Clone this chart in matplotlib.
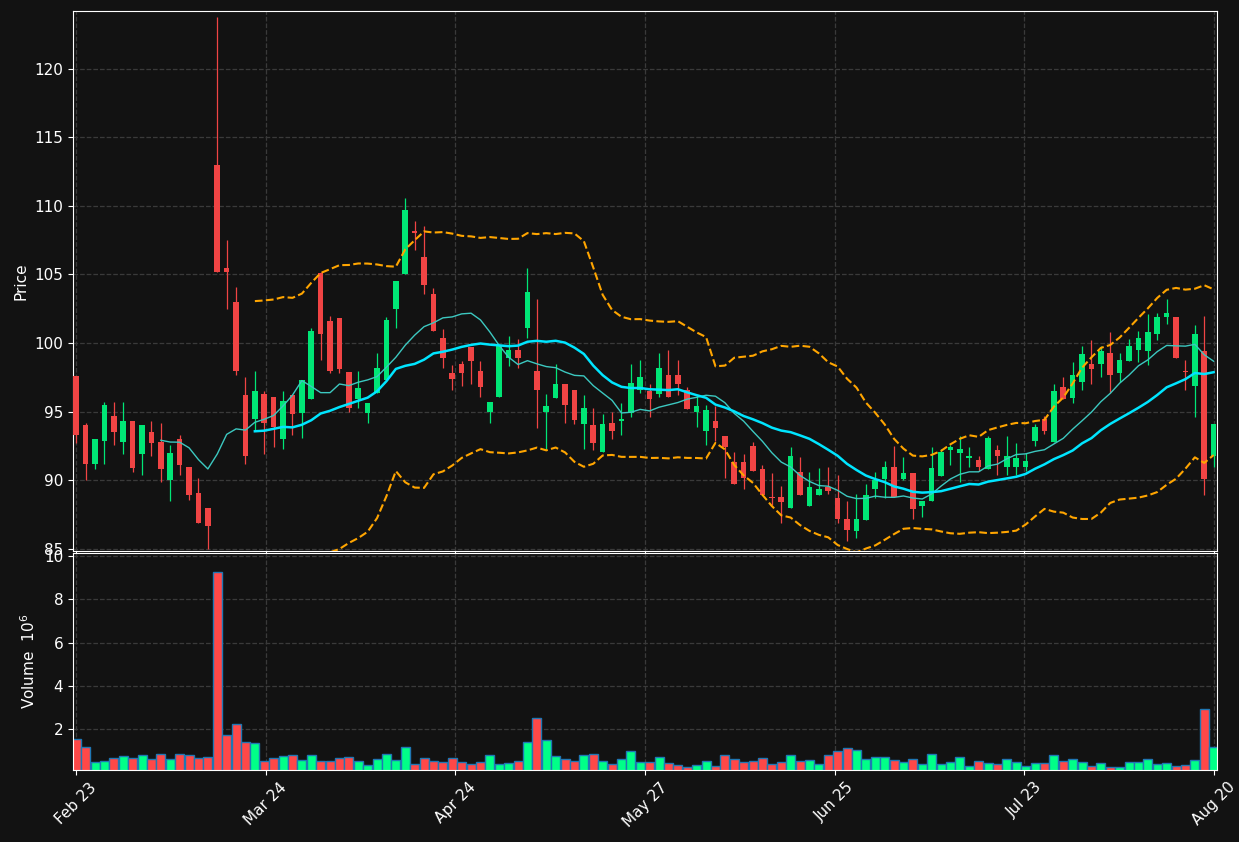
import numpy as np
import pandas as pd
import matplotlib
matplotlib.use("Agg")
import matplotlib.pyplot as plt

opens = [97.6,94.0,91.2,92.9,94.7,92.8,94.3,91.9,93.5,92.8,90.0,93.0,91.0,89.1,88.0,113.0,105.5,103.0,96.2,94.5,
         96.3,96.1,93.0,96.2,94.9,95.9,105.1,101.6,101.8,97.9,95.9,94.9,96.4,97.3,102.5,105.0,108.2,106.3,103.6,100.4,
         97.8,98.5,99.7,98.0,95.0,96.1,98.9,99.5,101.1,98.0,95.0,96.0,97.0,96.6,94.1,94.0,92.1,94.2,94.3,94.9,
         96.6,96.5,96.3,97.7,97.7,96.6,95.0,93.6,94.3,93.2,91.3,91.3,92.5,90.8,88.8,88.8,88.0,90.6,88.1,88.9,
         89.5,88.7,87.2,86.3,87.1,89.4,90.1,91.0,90.1,90.5,88.1,88.5,90.3,92.2,92.0,91.6,91.5,90.8,92.2,91.0,
         91.0,91.0,92.9,94.5,92.8,96.8,96.0,97.2,98.5,98.5,99.3,97.8,98.7,99.5,99.4,100.7,101.9,101.9,98.0,96.9,
         99.4,91.8]
closes = [93.3,91.2,93.0,95.5,93.5,94.3,90.9,94.0,92.7,90.8,92.0,91.1,88.9,86.9,86.7,105.2,105.2,98.0,91.8,96.5,
          94.2,93.9,95.8,94.8,97.3,100.9,100.7,98.0,98.1,95.3,96.7,95.6,98.2,101.7,104.5,109.7,108.0,104.2,100.9,98.9,
          97.4,97.8,98.7,96.8,95.7,99.8,99.5,98.9,103.7,96.6,95.4,97.0,95.5,94.4,95.3,92.7,94.1,93.6,94.5,97.1,
          97.5,95.9,98.2,96.1,97.0,95.2,95.4,95.1,93.8,92.4,89.7,90.2,90.7,88.9,88.7,88.4,91.8,88.9,89.5,89.4,
          89.2,87.2,86.4,87.2,88.9,90.0,91.0,88.8,90.5,87.9,88.5,90.9,92.1,92.4,92.3,91.8,91.0,93.1,91.8,91.8,
          91.6,91.4,93.9,93.6,96.5,95.9,97.7,99.2,98.1,99.4,97.7,98.8,99.8,100.4,100.8,101.9,102.2,98.9,97.9,100.7,
          90.1,94.1]
highs = [97.6,94.2,93.0,95.7,95.7,95.7,94.3,94.0,94.3,94.2,92.6,93.3,91.0,90.2,88.0,123.8,107.5,104.1,97.5,98.0,
         96.5,96.1,96.5,96.2,97.3,101.1,105.2,102.0,101.8,97.9,98.0,95.6,99.3,101.9,104.5,110.6,108.9,108.5,104.0,101.0,
         98.4,98.7,99.7,98.7,95.7,99.8,100.5,100.3,105.5,103.2,96.3,98.5,97.0,96.6,96.2,95.3,94.8,95.0,95.6,98.5,
         98.8,97.0,99.3,99.5,98.8,96.8,96.2,95.5,95.4,93.2,92.1,91.9,92.8,91.1,90.5,89.6,92.4,91.7,90.6,90.9,
         91.0,90.4,88.5,89.0,89.7,90.6,91.4,92.5,91.7,90.5,88.5,92.4,92.3,92.6,93.2,92.4,91.8,93.2,92.6,93.2,
         92.7,92.0,94.1,94.7,97.0,97.5,98.6,99.8,100.2,99.8,100.8,99.3,100.3,100.9,102.1,102.2,103.2,101.9,98.8,101.3,
         102.0,94.1]
lows = [92.7,90.0,90.8,91.2,92.6,91.9,90.6,90.4,91.8,89.9,88.5,90.4,88.6,86.9,85.0,105.2,102.5,97.7,91.2,93.6,
        91.9,92.4,92.3,93.3,93.1,95.9,98.8,97.8,97.8,95.0,95.3,94.2,96.4,97.3,101.1,105.0,106.8,103.6,100.9,98.2,
        96.6,96.9,97.0,96.1,94.2,96.1,98.3,98.2,100.4,93.8,92.3,96.0,94.2,94.1,92.3,92.2,92.1,93.0,93.3,94.6,
        96.4,94.6,96.1,96.1,96.2,95.2,93.9,92.6,92.9,90.2,89.7,89.4,90.7,88.9,88.2,86.9,88.0,88.9,88.1,88.9,
        89.0,86.9,85.6,85.8,87.1,88.7,88.7,88.8,90.0,87.2,87.3,88.5,90.3,91.1,89.9,91.0,90.7,90.8,90.4,90.4,
        90.4,90.7,92.5,93.4,92.8,95.9,95.6,96.6,97.0,97.5,96.4,97.2,98.7,98.6,98.4,100.2,101.4,98.9,96.6,94.6,
        88.9,91.0]
volumes = [1.53,1.16,0.46,0.51,0.65,0.74,0.65,0.79,0.60,0.84,0.60,0.84,0.79,0.65,0.70,9.26,1.72,2.23,1.40,1.35,
           0.51,0.65,0.74,0.79,0.56,0.79,0.51,0.51,0.65,0.70,0.51,0.33,0.60,0.84,0.56,1.16,0.37,0.65,0.51,0.46,
           0.65,0.48,0.37,0.48,0.79,0.37,0.42,0.53,1.40,2.51,1.49,0.74,0.60,0.53,0.79,0.84,0.51,0.37,0.60,0.98,
           0.48,0.48,0.70,0.41,0.31,0.23,0.31,0.51,0.28,0.79,0.60,0.48,0.51,0.65,0.37,0.48,0.79,0.51,0.56,0.37,
           0.79,0.98,1.12,1.02,0.60,0.70,0.70,0.56,0.48,0.60,0.37,0.84,0.37,0.48,0.70,0.28,0.51,0.41,0.37,0.60,
           0.48,0.28,0.41,0.41,0.79,0.51,0.60,0.48,0.28,0.41,0.23,0.23,0.48,0.48,0.60,0.37,0.41,0.28,0.33,0.56,
           2.93,1.16]
tick_labels = ["Feb 23", "Mar 24", "Apr 24", "May 27", "Jun 25", "Jul 23", "Aug 20"]

o = np.array(opens); c = np.array(closes); h = np.array(highs); l = np.array(lows)
v = np.array(volumes)
x = np.arange(len(c))
up = c >= o
cs = pd.Series(c)
ma10 = cs.rolling(10).mean()
ma20 = cs.rolling(20).mean()
sd20 = cs.rolling(20).std(ddof=0)
bbu = ma20 + 2 * sd20
bbl = ma20 - 2 * sd20
tick_pos = np.linspace(0, len(c) - 1, len(tick_labels))

bg = '#121212'
fig = plt.figure(figsize=(12.39, 8.42), dpi=100, facecolor=bg)
ax = fig.add_axes([0.0589, 0.3456, 0.9233, 0.6413], facecolor=bg)
axv = fig.add_axes([0.0589, 0.0855, 0.9233, 0.2577], facecolor=bg, sharex=ax)

cg, cr = '#00e676', '#f04444'
for i in range(len(c)):
    col = cg if up[i] else cr
    ax.vlines(x[i], l[i], h[i], color=col, lw=0.9, zorder=2)
    lo, hi = min(o[i], c[i]), max(o[i], c[i])
    ax.bar(x[i], max(hi - lo, 0.08), bottom=lo, width=0.6, color=col, zorder=3)

ax.plot(x, ma10, color='#3cc8c0', lw=1.0, zorder=4)
ax.plot(x, ma20, color='#00e5ff', lw=1.8, zorder=4)
ax.plot(x, bbu, color='#ffa500', lw=1.5, ls='--', zorder=4)
ax.plot(x, bbl, color='#ffa500', lw=1.5, ls='--', zorder=4)

vcols = ['#00ff88' if u else '#ff4848' for u in up]
axv.bar(x, v, width=0.95, color=vcols, edgecolor='#1f77b4', linewidth=1.0)

ax.set_xlim(-0.35, 121.35)
ax.set_ylim(84.85, 124.2)
ax.set_yticks([85, 90, 95, 100, 105, 110, 115, 120])
axv.set_ylim(0.1, 10.15)
axv.set_yticks([2, 4, 6, 8, 10])
axv.set_xticks(tick_pos)
axv.set_xticklabels(tick_labels, rotation=45, ha='center')
plt.setp(ax.get_xticklabels(), visible=False)

for a in (ax, axv):
    a.grid(True, color='#3a3a3a', ls='--', lw=0.9)
    a.set_axisbelow(True)
    for s in a.spines.values():
        s.set_color('white')
    a.tick_params(colors='white', labelsize=11)
ax.set_ylabel('Price', color='white', fontsize=11)
axv.set_ylabel('Volume  $10^{6}$', color='white', fontsize=11)

fig.savefig('out.png', dpi=100, facecolor=bg)
